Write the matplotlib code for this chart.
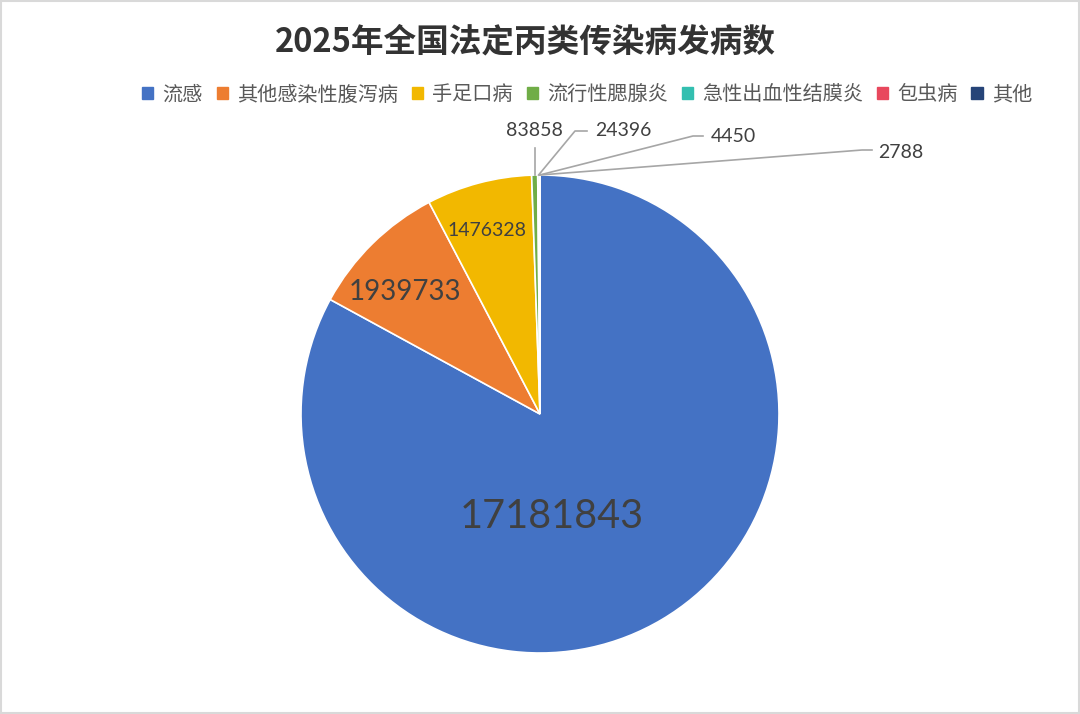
import matplotlib.pyplot as plt
import matplotlib.patches as mpatches
import numpy as np

categories = ["流感", "其他感染性腹泻病", "手足口病", "流行性腮腺炎", "急性出血性结膜炎", "包虫病", "其他"]
values = [17181843, 1939733, 1476328, 83858, 24396, 4450, 2788]
colors = ["#4472C4", "#ED7D31", "#F2B800", "#70AD47", "#33BFB0", "#E8485D", "#264478"]

plt.rcParams['font.family'] = ['Noto Sans CJK SC', 'DejaVu Sans']

fig = plt.figure(figsize=(10.8, 7.14), dpi=100)
ax = fig.add_axes([0, 0, 1, 1])

# pie centre at pixel (540, 414), radius 239 px
R = 239.0
cx, cy = 540.0, 414.0

def px(x, y):
    return ((x - cx) / R, (cy - y) / R)

wedges, _ = ax.pie(values, colors=colors, startangle=90, counterclock=False,
                   radius=1.0, center=(0, 0), frame=True,
                   wedgeprops=dict(edgecolor='white', linewidth=1.2))
ax.set_xlim(-cx / R, (1080 - cx) / R)
ax.set_ylim(-(714 - cy) / R, cy / R)
ax.set_aspect('auto')
ax.axis('off')

num_font = 'Lato'
tc = '#404040'
# labels inside the slices
inside = [(552, 516, 28.5), (405, 292, 20), (487, 230, 14)]
for i, (x, y, s) in enumerate(inside):
    ax.text(*px(x, y), f"{values[i]}", ha='center', va='center',
            fontsize=s, color=tc, family=num_font)

# outside labels with leader lines
def tip(w):
    a = np.deg2rad((w.theta1 + w.theta2) / 2)
    return np.cos(a), np.sin(a)

lc = '#A6A6A6'
# 83858: vertical leader
tx, ty = tip(wedges[3])
ax.plot([tx, tx], [ty, px(0, 148)[1]], color=lc, lw=1.2)
ax.text(*px(534, 131), f"{values[3]}", ha='center', va='center',
        fontsize=14, color=tc, family=num_font)

elbows = [((575, 131), (587, 131), (595, 131)),
          ((693, 136), (703, 136), (711, 137)),
          ((862, 150), (872, 150), (878, 152))]
for k, (e1, e2, t) in enumerate(elbows):
    i = 4 + k
    tx, ty = tip(wedges[i])
    p1 = px(*e1)
    p2 = px(*e2)
    ax.plot([tx, p1[0], p2[0]], [ty, p1[1], p2[1]], color=lc, lw=1.2)
    ax.text(*px(*t), f"{values[i]}", ha='left', va='center',
            fontsize=14, color=tc, family=num_font)

fig.text(525 / 1080, 1 - 42 / 714, "2025年全国法定丙类传染病发病数", ha='center', va='center',
         fontsize=23.5, fontweight='bold', color='#333333')

handles = [mpatches.Patch(color=c, label=l) for c, l in zip(colors, categories)]
leg = fig.legend(handles=handles, loc='center', bbox_to_anchor=(587 / 1080, 1 - 95 / 714),
                 ncol=7, frameon=False, fontsize=14.5, handlelength=0.55, handleheight=0.55,
                 handletextpad=0.45, columnspacing=0.7, labelcolor='#595959')

fig.patches.append(mpatches.Rectangle((0.001, 0.001), 0.998, 0.997, transform=fig.transFigure,
                                      fill=False, edgecolor='#D9D9D9', lw=1.5))

fig.savefig("out.png", dpi=100)
